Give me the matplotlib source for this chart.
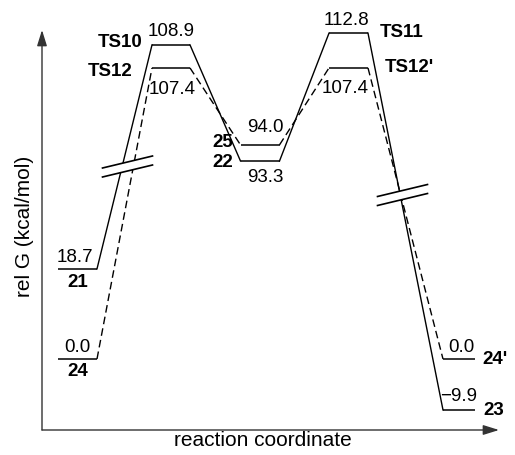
import matplotlib
matplotlib.use("Agg")
import matplotlib.pyplot as plt
from matplotlib.patches import Polygon

plt.rcParams['font.family'] = ['Liberation Sans', 'DejaVu Sans']

# species on the two pathways (solid = via TS10/TS11, dashed = via TS12/TS12')
solid_names = ["21", "TS10", "22", "TS11", "23"]
solid_G = [18.7, 108.9, 93.3, 112.8, -9.9]
dashed_names = ["24", "TS12", "25", "TS12'", "24'"]
dashed_G = [0.0, 107.4, 94.0, 107.4, 0.0]

# drawn heights: lower part to scale, upper part schematic (axis is broken)
solid_drawn = [18.4, 64.1, 40.4, 66.5, -10.4]
dashed_drawn = [0.0, 59.4, 43.7, 59.4, 0.0]

# layout along the reaction coordinate (px-like units)
stage_x = [77.5, 171, 260, 348.5, 459]
half_w = [19.5, 19, 19.5, 19.5, 16]
PX = 4.9  # px per y unit

fig = plt.figure(figsize=(5.15, 4.55), dpi=100)
ax = fig.add_axes([0, 0, 1, 1])
ax.set_xlim(0, 515)
ax.set_ylim(-96 / PX, 359 / PX)
ax.axis('off')


def draw_path(drawn, ls):
    for i, (x, y) in enumerate(zip(stage_x, drawn)):
        ax.plot([x - half_w[i], x + half_w[i]], [y, y], color='black', lw=1.1,
                solid_capstyle='butt', zorder=3)
        if i > 0:
            x0 = stage_x[i - 1] + half_w[i - 1]
            line, = ax.plot([x0, x - half_w[i]], [drawn[i - 1], y], color='black',
                            lw=1.0, zorder=2)
            if ls == 'dashed':
                line.set_dashes((5.5, 3.0))


draw_path(solid_drawn, 'solid')
draw_path(dashed_drawn, 'dashed')


def label(i, drawn, txt, dx, dy, bold=False, ha='center'):
    ax.annotate(txt, (stage_x[i], drawn[i]), xytext=(dx * 0.72, -dy * 0.72),
                textcoords='offset points', ha=ha, va='center', fontsize=13.5,
                fontweight='bold' if bold else 'normal', zorder=5)


def fmt(v):
    return f"{v:.1f}".replace('-', '\u2212')


# value labels and species names (offsets in px)
label(0, dashed_drawn, fmt(dashed_G[0]), 0, -12)
label(0, dashed_drawn, dashed_names[0], 0, 13, bold=True)
label(0, solid_drawn, fmt(solid_G[0]), -3, -11)
label(0, solid_drawn, solid_names[0], 0, 14, bold=True)
label(1, solid_drawn, fmt(solid_G[1]), 0, -13)
label(1, solid_drawn, solid_names[1], -29, -2, bold=True, ha='right')
label(1, dashed_drawn, fmt(dashed_G[1]), 1, 22)
label(1, dashed_drawn, dashed_names[1], -38, 4, bold=True, ha='right')
label(2, dashed_drawn, fmt(dashed_G[2]), 5, -17)
label(2, dashed_drawn, dashed_names[2], -27, -2, bold=True, ha='right')
label(2, solid_drawn, fmt(solid_G[2]), 5, 16)
label(2, solid_drawn, solid_names[2], -27, 1, bold=True, ha='right')
label(3, solid_drawn, fmt(solid_G[3]), -2, -13)
label(3, solid_drawn, solid_names[3], 31, -1, bold=True, ha='left')
label(3, dashed_drawn, fmt(dashed_G[3]), -3, 21)
label(3, dashed_drawn, dashed_names[3], 36, 0, bold=True, ha='left')
label(4, dashed_drawn, fmt(dashed_G[4]), 2, -12)
label(4, dashed_drawn, dashed_names[4], 23, 1, bold=True, ha='left')
label(4, solid_drawn, fmt(solid_G[4]), 0, -13)
label(4, solid_drawn, solid_names[4], 24, 1, bold=True, ha='left')


# axis-break marks
def axis_break(xc, yc):
    hx, slope, gap = 25, 12 / 50 / PX, 4.5 / PX
    pts = [(xc - hx, yc - hx * slope + gap), (xc + hx, yc + hx * slope + gap),
           (xc + hx, yc + hx * slope - gap), (xc - hx, yc - hx * slope - gap)]
    ax.add_patch(Polygon(pts, closed=True, facecolor='white', edgecolor='none', zorder=4))
    for s in (gap, -gap):
        ax.plot([xc - hx, xc + hx], [yc - hx * slope + s, yc + hx * slope + s],
                color='black', lw=1.2, zorder=4)


axis_break(127.5, (359 - 166.5) / PX)
axis_break(402.5, (359 - 195) / PX)

# axes with arrows
y_bot = (359 - 430) / PX
y_top = (359 - 30) / PX
arrow = dict(arrowstyle='-|>,head_length=0.8,head_width=0.25', lw=1.0,
             color='#333333', mutation_scale=12, shrinkA=0, shrinkB=0)
ax.annotate('', xy=(42, y_top), xytext=(42, y_bot), arrowprops=arrow)
ax.annotate('', xy=(499, y_bot), xytext=(42, y_bot), arrowprops=arrow)

ax.text(24, (359 - 226) / PX, "rel G (kcal/mol)", rotation=90, ha='center',
        va='center', fontsize=15)
ax.text(263, (359 - 441) / PX, "reaction coordinate", ha='center', va='center',
        fontsize=15)

plt.savefig("out.png", dpi=100)
